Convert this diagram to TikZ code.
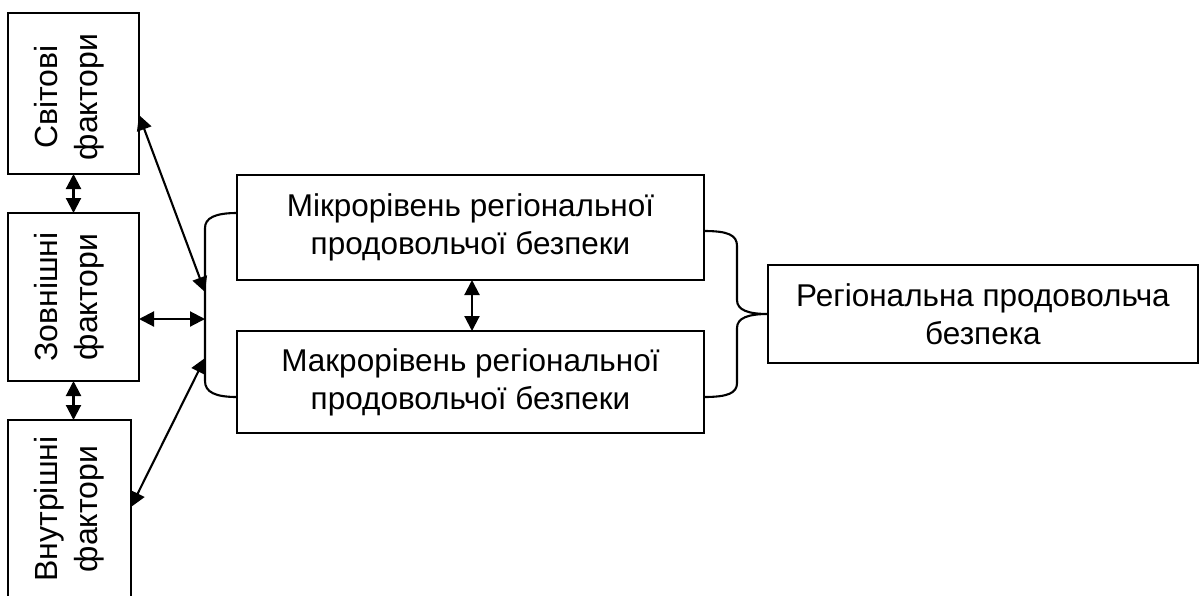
\documentclass[tikz,border=0pt]{standalone}
\usepackage{fontspec}
\setmainfont{Liberation Sans}
\usetikzlibrary{arrows.meta}
\begin{document}
\begin{tikzpicture}[x=1pt,y=-1pt,
  box/.style={draw,line width=2.1pt,inner sep=0pt,outer sep=0pt,align=center,
    font=\fontsize{31.5}{38}\selectfont},
  vtext/.style={rotate=90,align=center,inner sep=0pt,font=\fontsize{32}{40}\selectfont},
  link/.style={line width=2.1pt,{Triangle[length=15pt,width=15pt]}-{Triangle[length=15pt,width=15pt]}},
  brace/.style={line width=2.1pt}]
\useasboundingbox (0,0) rectangle (1199,595);
% left factor boxes
\node[box,minimum width=131pt,minimum height=161pt] (sv) at (73.5,93.5) {};
\node[vtext] (svt) at (69,97) {Світові\\фактори};
\node[box,minimum width=131pt,minimum height=168pt] (zv) at (73.5,297) {};
\node[vtext] (zvt) at (69,297) {Зовнішні\\фактори};
\node[box,minimum width=123pt,minimum height=190pt] (vn) at (69.5,515) {};
\node[vtext] (vnt) at (69,509) {Внутрішні\\фактори};
% level boxes
\node[box,minimum width=467pt,minimum height=105pt] (mi) at (470.5,227.5) {Мікрорівень регіональної\\продовольчої безпеки};
\node[box,minimum width=467pt,minimum height=102pt] (ma) at (470.5,382) {Макрорівень регіональної\\продовольчої безпеки};
% result box
\node[box,minimum width=430pt,minimum height=98pt] (rg) at (983,314) {Регіональна продовольча\\безпека};
% left brace
\coordinate (lbt) at (205,228);
\coordinate (lbb) at (205,381);
\draw[brace] (mi.west |- 0,213) .. controls (215,213) and (205,218) .. (lbt) -- (lbb)
  .. controls (205,392) and (215,397) .. (ma.west |- 0,397);
% right brace
\coordinate (rbt) at (737,246);
\coordinate (rbm1) at (737,300);
\coordinate (rbm2) at (737,328);
\coordinate (rbb) at (737,383);
\draw[brace] (mi.east |- 0,231) .. controls (728,231) and (737,235) .. (rbt) -- (rbm1)
  .. controls (737,310) and (748,314) .. (rg.west)
  .. controls (748,314) and (737,318) .. (rbm2) -- (rbb)
  .. controls (737,393) and (728,397) .. (ma.east |- 0,397);
% connector end points on the left brace
\coordinate (a1) at (205,292);
\coordinate (a2) at (205,319);
\coordinate (a3) at (205,358);
% arrows
\draw[link] (sv.south) -- (zv.north);
\draw[link] (zv.south) -- (vn.north -| zv.south);
\draw[link] (mi.south -| 472,0) -- (ma.north -| 472,0);
\draw[link] (sv.east |- 0,115) -- (a1);
\draw[link] (zv.east |- 0,319) -- (a2);
\draw[link] (vn.east |- 0,507) -- (a3);
\end{tikzpicture}
\end{document}
